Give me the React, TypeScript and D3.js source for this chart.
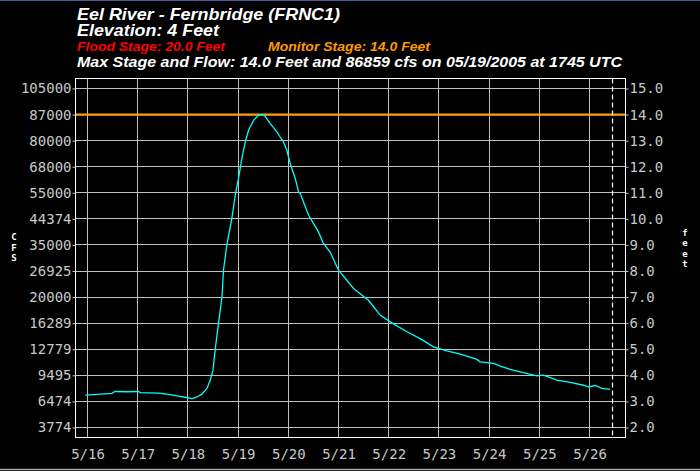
import { useEffect, useRef } from "react";
import * as d3 from "d3";

const WIDTH = 700;
const HEIGHT = 471;

// observed stage, hours after 05/16/2005 00:00 (local time)
const obsHours = [
  -1, 4.5, 11.7, 13.2, 18.8, 24.4, 25.2, 33.9, 38, 42.7, 47.5, 49.9, 52.3, 54.7,
  57.1, 58.7, 60, 61.1, 62.6, 64.3, 65, 66.6, 69, 70.9, 72.2, 73.8, 75.4, 77,
  79.4, 81.8, 82.8, 84.5, 87.3, 90.5, 92.1, 93.7, 95.3, 96.9, 99.3, 100.9, 101.7,
  105.7, 110.4, 112.8, 116, 120, 127.2, 134.3, 139.9, 144.7, 152.7, 159, 165.4,
  171.8, 178.2, 186.2, 187.7, 194.1, 197.3, 202.1, 208.4, 214.8, 218, 224.4,
  230.8, 237.1, 239.5, 242.7, 245.9, 249.9,
];
const stageFeet = [
  3.24, 3.27, 3.31, 3.38, 3.37, 3.38, 3.34, 3.32, 3.28, 3.21, 3.15, 3.11, 3.17,
  3.28, 3.5, 3.82, 4.2, 5.03, 5.99, 7.01, 8.03, 8.99, 10.02, 11.04, 11.55, 12.32,
  12.95, 13.4, 13.78, 13.98, 14.0, 13.98, 13.66, 13.34, 13.14, 12.95, 12.63,
  12.12, 11.55, 11.04, 10.97, 10.14, 9.5, 9.06, 8.73, 8.03, 7.33, 6.88, 6.31,
  6.05, 5.67, 5.41, 5.09, 4.94, 4.81, 4.61, 4.52, 4.46, 4.35, 4.23, 4.1, 3.98,
  4.01, 3.82, 3.73, 3.62, 3.56, 3.61, 3.5, 3.46,
];

const stageTicks = [2, 3, 4, 5, 6, 7, 8, 9, 10, 11, 12, 13, 14, 15];
const flowLabels = [
  "3774", "6474", "9495", "12779", "16289", "20000", "26925", "35000",
  "44374", "55000", "68000", "80000", "87000", "105000",
];
const dayLabels = [
  "5/16", "5/17", "5/18", "5/19", "5/20", "5/21", "5/22", "5/23", "5/24",
  "5/25", "5/26",
];

const monitorStage = 14.0;
const nowHour = 251;

const base = Date.UTC(2005, 4, 16, 0, 0);
const hourDate = (h: number) => new Date(base + h * 3600 * 1000);

const App = () => {
  const ref = useRef<SVGSVGElement>(null);

  useEffect(() => {
    const svg = d3.select(ref.current);
    svg.selectAll("*").remove();

    const left = 75.5;
    const right = 625.5;
    const top = 78.5;
    const bottom = 437.5;

    const x = d3
      .scaleUtc()
      .domain([hourDate(-5.74), hourDate(257.2)])
      .range([left, right]);
    const y = d3.scaleLinear().domain([1.6165, 15.383]).range([bottom, top]);

    const mono = "'DejaVu Sans Mono', monospace";
    const sans = "'Liberation Sans', Arial, sans-serif";

    svg.append("rect").attr("width", WIDTH).attr("height", HEIGHT).attr("fill", "#000");
    svg.append("line").attr("x1", 0).attr("x2", WIDTH).attr("y1", 0.5).attr("y2", 0.5)
      .attr("stroke", "#4b5d9a").attr("stroke-width", 1);
    svg.append("line").attr("x1", 0).attr("x2", WIDTH).attr("y1", HEIGHT - 1.5).attr("y2", HEIGHT - 1.5)
      .attr("stroke", "#a8a8a8").attr("stroke-width", 1.5);

    // titles
    const title = svg.append("g").attr("font-family", sans).attr("font-weight", "bold").attr("font-style", "italic");
    const addTitle = (txt: string, tx: number, ty: number, size: number, len: number, color: string) =>
      title.append("text").attr("x", tx).attr("y", ty).attr("font-size", size).attr("fill", color)
        .attr("textLength", len).attr("lengthAdjust", "spacingAndGlyphs").text(txt);
    addTitle("Eel River - Fernbridge (FRNC1)", 77, 19.5, 17, 263, "#fff");
    addTitle("Elevation: 4 Feet", 77, 36, 16, 142, "#fff");
    addTitle("Flood Stage: 20.0 Feet", 77, 50.5, 12, 148, "#ff0000");
    addTitle("Monitor Stage: 14.0 Feet", 268, 50.5, 12, 162, "#ff9900");
    addTitle("Max Stage and Flow: 14.0 Feet and 86859 cfs on 05/19/2005 at 1745 UTC", 77, 67, 15, 545, "#fff");

    // grid
    const grid = svg.append("g").attr("stroke", "#c0c0c0").attr("stroke-width", 1).attr("shape-rendering", "crispEdges");
    grid.selectAll("line.h").data(stageTicks).enter().append("line")
      .attr("x1", left).attr("x2", right)
      .attr("y1", (d) => Math.floor(y(d)) + 0.5).attr("y2", (d) => Math.floor(y(d)) + 0.5);
    grid.selectAll("line.v").data(dayLabels).enter().append("line")
      .attr("y1", top).attr("y2", bottom)
      .attr("x1", (_d, i) => Math.floor(x(hourDate(i * 24))) + 0.5)
      .attr("x2", (_d, i) => Math.floor(x(hourDate(i * 24))) + 0.5);

    // monitor stage
    svg.append("line").attr("x1", left).attr("x2", right)
      .attr("y1", y(monitorStage)).attr("y2", y(monitorStage))
      .attr("stroke", "#ffa000").attr("stroke-width", 2.2);

    // current time
    svg.append("line").attr("x1", x(hourDate(nowHour))).attr("x2", x(hourDate(nowHour)))
      .attr("y1", top).attr("y2", bottom)
      .attr("stroke", "#fff").attr("stroke-width", 1.2).attr("stroke-dasharray", "5,3");

    // hydrograph
    const pts = obsHours.map((h, i) => [h, stageFeet[i]] as [number, number]);
    const line = d3.line<[number, number]>().x((d) => x(hourDate(d[0]))).y((d) => y(d[1]));
    svg.append("path").datum(pts).attr("d", line).attr("fill", "none")
      .attr("stroke", "#00ffff").attr("stroke-width", 1.3);

    // frame
    svg.append("rect").attr("x", left).attr("y", top).attr("width", right - left).attr("height", bottom - top)
      .attr("fill", "none").attr("stroke", "#fff").attr("stroke-width", 1).attr("shape-rendering", "crispEdges");

    // axes
    const leftAxis = svg.append("g").attr("transform", `translate(${left},0)`)
      .call(d3.axisLeft(y).tickValues(stageTicks).tickSize(3).tickPadding(1)
        .tickFormat((_d, i) => flowLabels[i]));
    const rightAxis = svg.append("g").attr("transform", `translate(${right},0)`)
      .call(d3.axisRight(y).tickValues(stageTicks).tickSize(3).tickPadding(1)
        .tickFormat((d) => d3.format(".1f")(d as number)));
    const bottomAxis = svg.append("g").attr("transform", `translate(0,${bottom})`)
      .call(d3.axisBottom(x).tickValues(dayLabels.map((_d, i) => hourDate(i * 24))).tickSize(0).tickPadding(12)
        .tickFormat((_d, i) => dayLabels[i]));
    [leftAxis, rightAxis, bottomAxis].forEach((g) => {
      g.select(".domain").remove();
      g.selectAll(".tick line").attr("stroke", "#c0c0c0");
      g.selectAll("text").attr("fill", "#c8c8c8").attr("font-family", mono).attr("font-size", 14);
    });
    bottomAxis.selectAll("text").attr("dy", "0.71em");

    // unit labels, one letter per line
    const unit = (txt: string, ux: number, uy: number, step: number) => {
      txt.split("").forEach((c, i) =>
        svg.append("text").attr("x", ux).attr("y", uy + i * step).attr("fill", "#fff")
          .attr("font-family", mono).attr("font-weight", "bold").attr("font-size", 9)
          .attr("text-anchor", "middle").text(c));
    };
    unit("CFS", 14, 240, 10.6);
    unit("feet", 685, 235.5, 10.6);
  }, []);

  return (
    <svg
      ref={ref}
      width={WIDTH}
      height={HEIGHT}
      style={{ position: "absolute", left: 0, top: 0, display: "block" }}
    />
  );
};

export default App;
